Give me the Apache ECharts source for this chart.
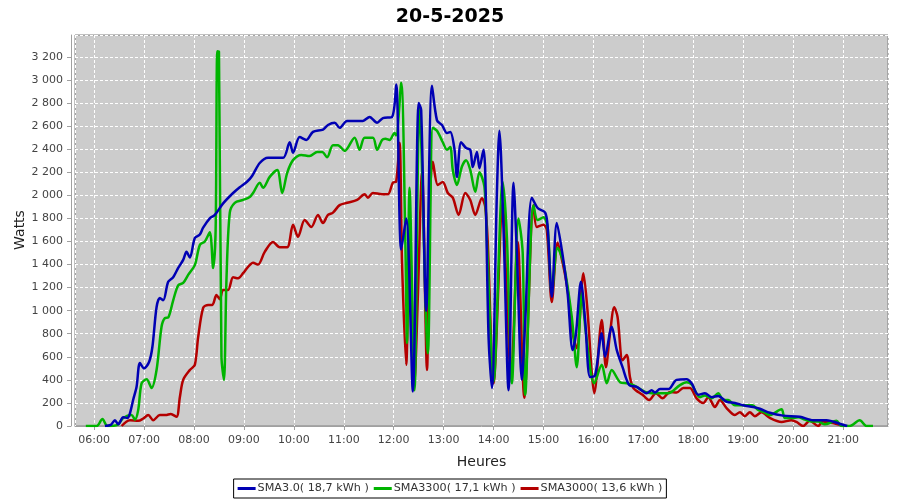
<!DOCTYPE html>
<html><head><meta charset="utf-8">
<script src="https://cdn.jsdelivr.net/npm/echarts@6/dist/echarts.min.js"></script>
<style>html,body{margin:0;padding:0;background:#fff}#c{width:900px;height:500px}</style>
</head><body><div id="c"></div>
<script>
const chartTitle = '20-5-2025';
const yAxisTitle = 'Watts';
const seriesNames = ['SMA3.0( 18,7 kWh )', 'SMA3300( 17,1 kWh )', 'SMA3000( 13,6 kWh )'];
const yTicks = [0,200,400,600,800,1000,1200,1400,1600,1800,2000,2200,2400,2600,2800,3000,3200];

const blueTimes = ['06:13','06:20','06:25','06:29','06:35','06:40','06:43','06:47','06:51','06:55','07:00','07:06','07:10','07:15','07:19','07:23','07:29','07:35','07:41','07:47','07:51','07:55','08:01','08:07','08:11','08:19','08:25','08:35','08:47','08:55','09:04','09:10','09:19','09:29','09:47','09:55','09:59','10:07','10:15','10:23','10:35','10:41','10:49','10:55','11:04','11:23','11:31','11:40','11:47','11:58','12:03','12:09','12:15','12:23','12:30','12:33','12:39','12:46','12:52','12:58','13:04','13:08','13:13','13:16','13:21','13:27','13:32','13:35','13:40','13:43','13:48','13:50','13:54','13:58','14:04','14:07','14:12','14:18','14:24','14:28','14:34','14:38','14:46','14:53','15:02','15:05','15:10','15:16','15:23','15:29','15:35','15:39','15:45','15:50','15:56','16:02','16:10','16:14','16:22','16:28','16:35','16:43','16:52','17:04','17:10','17:14','17:20','17:30','17:40','17:52','17:58','18:06','18:14','18:22','18:30','18:40','18:50','19:00','19:12','19:20','19:32','19:48','20:08','20:24','20:40','20:58','21:05'];
const blueValues = [0,10,50,15,75,70,110,230,340,546,500,555,685,1030,1110,1090,1250,1290,1370,1440,1510,1460,1630,1660,1720,1800,1830,1930,2020,2070,2120,2170,2280,2325,2325,2460,2370,2505,2480,2550,2570,2610,2630,2585,2645,2645,2680,2630,2670,2680,2960,1530,1800,300,2800,2740,1000,2950,2650,2610,2540,2550,2400,2160,2460,2410,2395,2245,2375,2235,2395,2200,770,330,2020,2560,1700,310,2110,1500,400,900,1980,1890,1850,1725,1120,1760,1480,1150,660,800,1250,920,425,440,805,600,860,660,510,355,340,285,310,290,320,320,400,405,370,270,285,250,260,210,200,180,165,150,115,90,80,50,50,15,0];

const greenTimes = ['05:50','06:03','06:10','06:16','06:28','06:35','06:45','06:49','06:53','06:57','07:03','07:09','07:15','07:21','07:25','07:29','07:35','07:41','07:47','07:53','08:01','08:07','08:13','08:19','08:23','08:26','08:28','08:30','08:33','08:36','08:39','08:43','08:49','08:59','09:07','09:11','09:19','09:23','09:31','09:40','09:46','09:52','09:59','10:09','10:19','10:28','10:34','10:40','10:47','10:53','11:01','11:13','11:19','11:25','11:35','11:40','11:46','11:50','11:55','12:01','12:03','12:09','12:14','12:16','12:19','12:25','12:31','12:41','12:47','12:52','12:59','13:04','13:08','13:11','13:16','13:22','13:27','13:32','13:38','13:43','13:49','13:52','14:00','14:11','14:16','14:22','14:30','14:35','14:38','14:48','14:53','15:00','15:05','15:10','15:17','15:24','15:34','15:40','15:46','15:51','16:01','16:10','16:16','16:22','16:32','16:40','16:48','17:02','17:10','17:20','17:30','17:44','17:52','17:58','18:08','18:14','18:22','18:30','18:36','18:42','18:50','19:00','19:11','19:18','19:25','19:32','19:46','19:50','19:58','20:06','20:14','20:22','20:30','20:38','20:52','20:58','21:08','21:20','21:28','21:36'];
const greenValues = [0,0,60,0,10,70,95,55,140,370,405,330,485,860,935,940,1090,1220,1240,1310,1395,1570,1600,1680,1370,1700,3250,3245,600,400,1265,1850,1935,1960,1985,2020,2110,2065,2160,2220,2020,2195,2305,2350,2340,2375,2375,2330,2435,2435,2385,2500,2395,2500,2500,2395,2480,2490,2480,2540,2520,2975,1590,720,2065,310,2770,630,2585,2560,2460,2395,2420,2220,2090,2250,2305,2220,2030,2200,2075,1600,385,2115,1640,370,1800,1500,270,1915,1785,1810,1725,1150,1545,1415,945,510,1150,805,370,530,370,485,380,370,355,295,285,285,285,355,380,360,250,265,240,285,225,225,180,180,180,140,120,95,145,70,70,75,55,40,40,15,45,0,0,50,0,0];

const redTimes = ['06:33','06:43','06:53','06:59','07:05','07:11','07:19','07:26','07:32','07:39','07:43','07:47','07:55','08:01','08:05','08:11','08:17','08:22','08:27','08:31','08:35','08:41','08:47','08:53','08:59','09:05','09:11','09:17','09:25','09:35','09:43','09:52','09:59','10:05','10:13','10:21','10:29','10:35','10:41','10:47','10:55','11:04','11:16','11:25','11:29','11:35','11:46','11:53','11:59','12:03','12:07','12:10','12:15','12:19','12:25','12:29','12:34','12:40','12:43','12:47','12:53','12:59','13:05','13:11','13:18','13:26','13:32','13:38','13:46','13:50','13:53','14:00','14:11','14:15','14:21','14:29','14:37','14:48','14:52','15:00','15:04','15:10','15:17','15:23','15:29','15:35','15:40','15:48','15:53','15:58','16:01','16:10','16:15','16:20','16:25','16:29','16:35','16:40','16:44','16:48','16:59','17:07','17:15','17:23','17:32','17:40','17:48','17:56','18:04','18:12','18:18','18:26','18:32','18:40','18:50','18:56','19:02','19:08','19:14','19:22','19:32','19:46','19:58','20:04','20:12','20:20','20:30','20:36','20:48','21:00'];
const redValues = [0,50,45,65,95,50,95,95,105,80,250,400,485,530,770,1025,1050,1050,1135,1100,1180,1180,1290,1280,1325,1380,1415,1400,1510,1595,1550,1550,1745,1640,1785,1725,1830,1760,1830,1850,1915,1935,1960,2010,1980,2020,2010,2010,2110,2120,2455,1415,530,1700,380,1120,2195,485,1875,2290,2090,2115,2020,1980,1830,2020,1960,1830,1975,1900,1595,370,1935,1300,415,1595,245,1915,1725,1745,1700,1075,1590,1415,1180,805,675,1325,990,460,285,920,510,805,1030,945,570,615,420,330,270,225,285,240,295,290,330,330,240,200,250,165,225,155,95,120,85,120,85,120,70,35,50,35,0,45,0,40,25,0];

function ts(s){ const p = s.split(':').map(Number); return Date.UTC(2025,4,20,p[0],p[1]); }
function pair(times, vals){ return times.map((t,i)=>[ts(t), vals[i]]); }
function pad(n){ return (n<10?'0':'')+n; }
function yfmt(v){ if (v>=1000){ const r=v%1000; return Math.floor(v/1000)+' '+(r<10?'00':r<100?'0':'')+r; } return ''+v; }

const chart = echarts.init(document.getElementById('c'), null, {renderer:'canvas'});
const font = 'DejaVu Sans';
chart.setOption({
  useUTC: true,
  animation: false,
  backgroundColor: '#ffffff',
  title: { text: chartTitle, left: 'center', top: 3, textStyle: { fontFamily: font, fontSize: 19, fontWeight: 'bold', color: '#000' } },
  graphic: [{
    type: 'text', x: 20, y: 230, rotation: Math.PI / 2,
    style: { text: yAxisTitle, fontFamily: font, fontSize: 14, fill: '#222', textAlign: 'center', textVerticalAlign: 'middle' }
  }],
  legend: {
    bottom: 2, left: 'center', data: seriesNames,
    borderColor: '#000', borderWidth: 1, padding: [4,4], itemGap: 5,
    icon: 'rect', itemWidth: 18, itemHeight: 3,
    textStyle: { fontFamily: font, fontSize: 11.2, color: '#333', padding: [0,0,0,-3] }
  },
  grid: { left: 75, right: 12, top: 35, bottom: 74, show: true, backgroundColor: '#cccccc', borderColor: '#808080', borderWidth: 1 },
  xAxis: {
    type: 'time', min: ts('05:37'), max: ts('21:54'),
    minInterval: 3600000, maxInterval: 3600000,
    offset: 4,
    name: 'Heures', nameLocation: 'middle', nameGap: 25,
    nameTextStyle: { fontFamily: font, fontSize: 14, color: '#222' },
    axisLine: { lineStyle: { color: '#a0a0a0' } },
    axisTick: { show: true, length: 4, lineStyle: { color: '#a0a0a0' } },
    axisLabel: { fontFamily: font, fontSize: 11, color: '#444', margin: 5, hideOverlap: false,
      formatter: function(v){ const d=new Date(v); return pad(d.getUTCHours())+':'+pad(d.getUTCMinutes()); } },
    splitLine: { show: true, lineStyle: { color: '#ffffff', type: [3,2], width: 1 } },
    minorTick: { show: false }
  },
  yAxis: {
    type: 'value', min: yTicks[0], max: 3390, interval: yTicks[1]-yTicks[0],
    offset: 4,
    axisLine: { show: true, lineStyle: { color: '#a0a0a0' } },
    axisTick: { show: true, length: 4, lineStyle: { color: '#a0a0a0' } },
    axisLabel: { fontFamily: font, fontSize: 11, color: '#444', margin: 8, showMaxLabel: false, formatter: yfmt },
    splitLine: { show: true, lineStyle: { color: '#ffffff', type: [3,2], width: 1 } }
  },
  series: [
    { name: seriesNames[0], type: 'line', data: pair(blueTimes, blueValues), showSymbol: false, smooth: 0.3, z: 5, color: '#0000b4', lineStyle: { width: 2.5, color: '#0000b4' } },
    { name: seriesNames[1], type: 'line', data: pair(greenTimes, greenValues), showSymbol: false, smooth: 0.3, z: 4, color: '#00b400', lineStyle: { width: 2.5, color: '#00b400' } },
    { name: seriesNames[2], type: 'line', data: pair(redTimes, redValues), showSymbol: false, smooth: 0.3, z: 3, color: '#b40000', lineStyle: { width: 2.5, color: '#b40000' } }
  ]
});
</script></body></html>
